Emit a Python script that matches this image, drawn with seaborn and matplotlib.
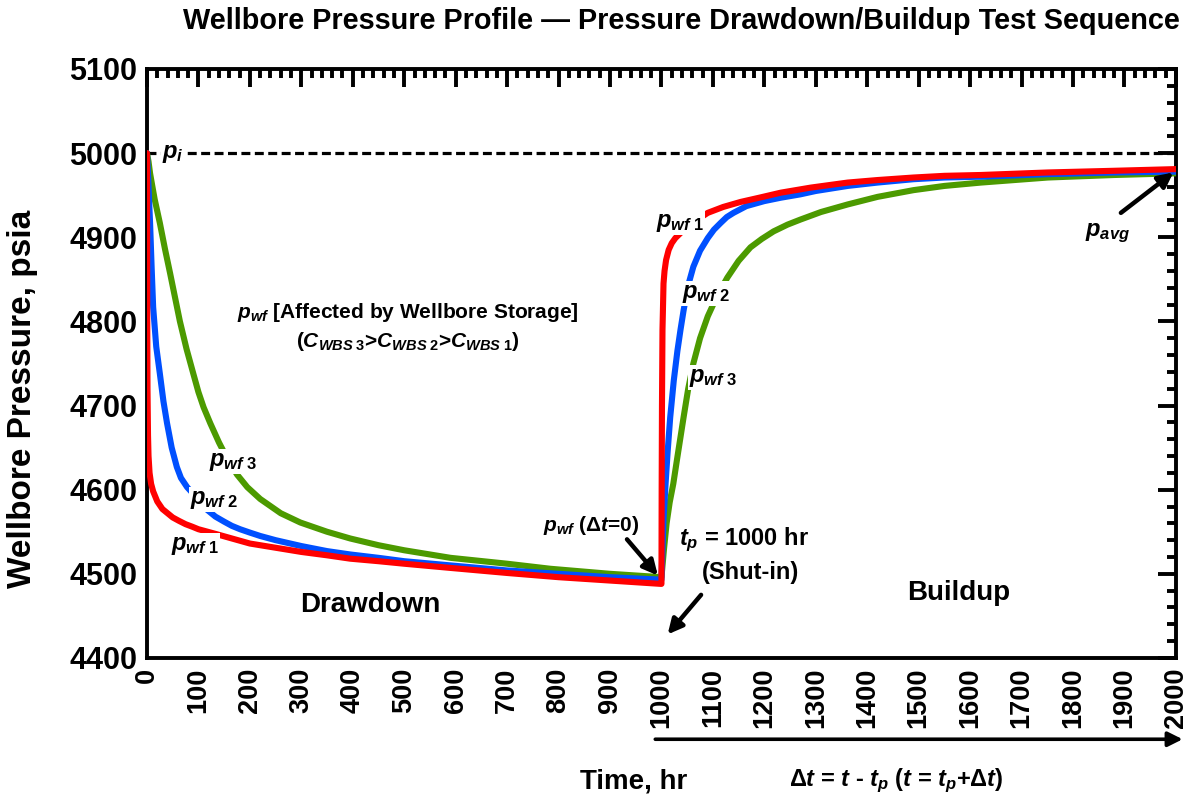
import matplotlib
matplotlib.use("Agg")
import matplotlib.pyplot as plt
import seaborn as sns
import pandas as pd
from matplotlib.ticker import MultipleLocator

# ---------------- data ----------------
p_init = 5000
t_prod = 1000

t_red = [0, 0.5, 1, 2, 3, 5, 8, 12, 20, 30, 40, 50, 62, 75, 88, 100, 118, 136, 165, 200, 250, 300, 350, 395, 450, 500, 590, 700, 800, 900, 1000,
         1000.4, 1001, 1002, 1004, 1006, 1009, 1014, 1020, 1027, 1037, 1048, 1060, 1075, 1090, 1120, 1154, 1190, 1232, 1290, 1362, 1420, 1490, 1550, 1621, 1751, 1880, 2000]
p_red = [5000, 4800, 4720, 4665, 4640, 4620, 4607, 4598, 4586, 4577, 4572, 4567, 4563, 4559, 4556, 4553, 4550, 4547, 4542, 4536, 4531, 4526, 4522, 4518, 4515, 4512, 4507, 4501, 4496, 4492, 4488,
         4600, 4700, 4790, 4845, 4860, 4873, 4885, 4893, 4899, 4905, 4911, 4917, 4923, 4929, 4936, 4942, 4947, 4953, 4959, 4965, 4968, 4971, 4973, 4974, 4977, 4979, 4981]

t_blue = [0, 2, 4, 6, 9, 12, 18, 25, 32, 39, 48, 58, 66, 78, 90, 103, 117, 133, 150, 165, 181, 200, 220, 250, 300, 350, 395, 450, 500, 590, 700, 800, 900, 1000,
          1002, 1004, 1008, 1012, 1017, 1024, 1031, 1037, 1043, 1052, 1062, 1075, 1090, 1102, 1115, 1127, 1140, 1165, 1200, 1232, 1270, 1300, 1362, 1420, 1490, 1550, 1621, 1751, 1880, 2000]
p_blue = [5000, 4975, 4945, 4917, 4865, 4817, 4770, 4738, 4705, 4679, 4650, 4627, 4614, 4603, 4595, 4584, 4576, 4568, 4562, 4557, 4553, 4549, 4545, 4540, 4533, 4527, 4523, 4519, 4515, 4510, 4504, 4500, 4496, 4493,
          4530, 4565, 4607, 4645, 4686, 4730, 4765, 4790, 4813, 4843, 4865, 4884, 4899, 4909, 4917, 4924, 4929, 4937, 4943, 4947, 4951, 4955, 4961, 4965, 4969, 4971, 4972, 4975, 4977, 4978]

t_green = [0, 3, 6, 10, 15, 20, 25, 35, 45, 55, 64, 77, 90, 100, 110, 123, 140, 156, 175, 195, 220, 260, 298, 350, 395, 450, 500, 590, 700, 784, 900, 1000,
           1005, 1010, 1016, 1023, 1030, 1043, 1052, 1062, 1075, 1090, 1108, 1128, 1150, 1173, 1195, 1218, 1245, 1270, 1310, 1362, 1420, 1490, 1550, 1621, 1751, 1880, 2000]
p_green = [5000, 4990, 4976, 4962, 4945, 4931, 4917, 4886, 4857, 4827, 4800, 4767, 4738, 4716, 4698, 4679, 4656, 4637, 4618, 4603, 4589, 4572, 4561, 4550, 4542, 4534, 4528, 4519, 4512, 4506, 4500, 4496,
           4530, 4560, 4585, 4607, 4635, 4686, 4720, 4750, 4780, 4806, 4830, 4852, 4872, 4888, 4898, 4907, 4915, 4921, 4930, 4939, 4948, 4956, 4961, 4965, 4971, 4974, 4976]

curve_names = ["pwf3", "pwf2", "pwf1"]
curve_colors = {"pwf1": "#ff0000", "pwf2": "#0050ff", "pwf3": "#4c9a00"}

x_ticks = list(range(0, 2001, 100))
y_ticks = list(range(4400, 5101, 100))

# ---------------- style ----------------
sns.set_theme(style="white")
plt.rcParams["font.family"] = ["Liberation Sans", "DejaVu Sans"]
plt.rcParams["font.weight"] = "bold"
plt.rcParams["text.color"] = "black"
plt.rcParams["axes.labelcolor"] = "black"
plt.rcParams["xtick.color"] = "black"
plt.rcParams["ytick.color"] = "black"
plt.rcParams["mathtext.fontset"] = "custom"
plt.rcParams["mathtext.it"] = "Liberation Sans:italic:bold"
plt.rcParams["mathtext.rm"] = "Liberation Sans:bold"
plt.rcParams["mathtext.bf"] = "Liberation Sans:bold"
plt.rcParams["mathtext.sf"] = "Liberation Sans:bold"

fig = plt.figure(figsize=(11.93, 8.02), dpi=100)
ax = fig.add_axes([0.1232, 0.1796, 0.8625, 0.7344])

frames = []
for name, t, p in [("pwf3", t_green, p_green), ("pwf2", t_blue, p_blue), ("pwf1", t_red, p_red)]:
    frames.append(pd.DataFrame({"t": t, "p": p, "curve": name}))
for name, df in zip(curve_names, frames):
    sns.lineplot(data=df, x="t", y="p", color=curve_colors[name], lw=4.4,
                 sort=False, estimator=None, ax=ax, legend=False, zorder=3)

ax.axhline(p_init, color="black", lw=2.3, dashes=(2.8, 1.4), zorder=2)

ax.set_xlim(0, 2000)
ax.set_ylim(4400, 5100)
ax.set_xticks(x_ticks)
ax.set_yticks(y_ticks)
ax.xaxis.set_minor_locator(MultipleLocator(20))
ax.yaxis.set_minor_locator(MultipleLocator(20))
ax.tick_params(which="both", direction="in", top=True, right=True, width=2.8, color="black")
ax.tick_params(which="major", length=13)
ax.tick_params(which="minor", length=6.5)
ax.tick_params(axis="x", labelrotation=90, labelsize=19.5, pad=7)
ax.tick_params(axis="y", labelsize=22, pad=7)
for lab in ax.get_xticklabels() + ax.get_yticklabels():
    lab.set_fontweight("bold")
for s in ax.spines.values():
    s.set_linewidth(2.8)
    s.set_color("black")
ax.set_xlabel("")
ax.set_ylabel("")

# ---------------- texts ----------------
fig.text(0.571, 0.974, "Wellbore Pressure Profile \u2014 Pressure Drawdown/Buildup Test Sequence",
         ha="center", va="center", fontsize=20.8, fontweight="bold")
fig.text(0.019, 0.503, "Wellbore Pressure, psia", rotation=90, ha="center", va="center",
         fontsize=24, fontweight="bold")
fig.text(0.531, 0.025, "Time, hr", ha="center", va="center", fontsize=20, fontweight="bold")

wbox = dict(facecolor="white", edgecolor="none", pad=0.6)
lab_kw = dict(ha="center", va="center", fontsize=17, zorder=5, bbox=wbox)
ax.text(50, 5000, r"$p_i$", **lab_kw)
ax.text(93, 4534, r"$p_{wf\;1}$", **lab_kw)
ax.text(131, 4588, r"$p_{wf\;2}$", **lab_kw)
ax.text(167, 4633, r"$p_{wf\;3}$", **lab_kw)
ax.text(1036, 4918, r"$p_{wf\;1}$", **lab_kw)
ax.text(1086, 4833, r"$p_{wf\;2}$", **lab_kw)
ax.text(1101, 4733, r"$p_{wf\;3}$", **lab_kw)

ax.text(507, 4810, r"$p_{wf}$ [Affected by Wellbore Storage]", ha="center", va="center",
        fontsize=15, fontweight="bold")
ax.text(507, 4776, r"($C_{WBS\;3}$>$C_{WBS\;2}$>$C_{WBS\;1}$)", ha="center", va="center",
        fontsize=15, fontweight="bold")

ax.text(434, 4463, "Drawdown", ha="center", va="center", fontsize=20, fontweight="bold")
ax.text(1578, 4477, "Buildup", ha="center", va="center", fontsize=20, fontweight="bold")
ax.text(1160, 4541, r"$t_p$ = 1000 hr", ha="center", va="center", fontsize=17, fontweight="bold")
ax.text(1173, 4502, "(Shut-in)", ha="center", va="center", fontsize=17, fontweight="bold")

arrow_kw = dict(arrowstyle="-|>", color="black", lw=3.2, mutation_scale=22, shrinkA=0, shrinkB=0)
ax.text(863, 4558, r"$p_{wf}$ ($\Delta t$=0)", ha="center", va="center", fontsize=15, fontweight="bold")
ax.annotate("", xy=(993, 4498), xytext=(933, 4541), arrowprops=arrow_kw)
ax.annotate("", xy=(1012, 4428), xytext=(1077, 4475), arrowprops=arrow_kw)
ax.text(1868, 4905, r"$p_{avg}$", ha="center", va="center", fontsize=17)
ax.annotate("", xy=(1995, 4977), xytext=(1893, 4929), arrowprops=arrow_kw)

# bottom Δt arrow (outside axes)
ax.annotate("", xy=(1.0065, -0.138), xytext=(0.494, -0.138), xycoords="axes fraction",
            textcoords="axes fraction", annotation_clip=False,
            arrowprops=dict(arrowstyle="-|>", color="black", lw=2.6, mutation_scale=22,
                            shrinkA=0, shrinkB=0))
fig.text(0.751, 0.027, r"$\Delta t$ = $t$ - $t_p$ ($t$ = $t_p$+$\Delta t$)", ha="center", va="center",
         fontsize=17, fontweight="bold")

fig.savefig("out.png", dpi=100)
